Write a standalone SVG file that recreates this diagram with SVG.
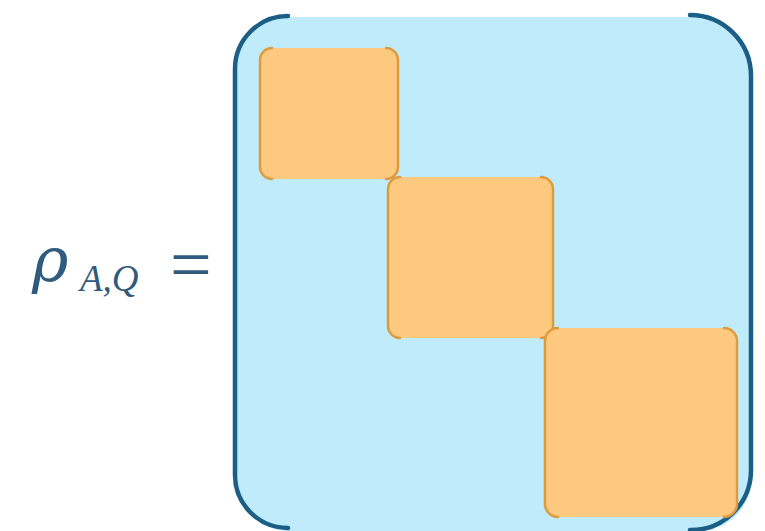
<svg xmlns="http://www.w3.org/2000/svg" width="765" height="531" viewBox="0 0 765 531">
<style>
.brk{fill:none;stroke:#1B5E86;stroke-width:4.5;stroke-linecap:round}
.blk{fill:#FDC97F}
.obrk{fill:none;stroke:#DD9A3E;stroke-width:2.5;stroke-linecap:round}
.t{font-style:italic;fill:#2F5B7E}
</style>
<rect width="765" height="531" fill="#ffffff"/>
<g id="label">
<text class="t" x="32" y="281" font-size="62" font-family="DejaVu Serif,serif">ρ</text>
<text class="t" x="80" y="291" font-size="37" font-family="Liberation Serif,serif">A,Q</text>
<text x="170" y="289" font-family="Liberation Serif,serif" font-size="74" fill="#2F5B7E">=</text>
</g>
<g id="matrix">
<rect x="237" y="17" width="514" height="514" rx="52" fill="#BFEBFA"/>
<path class="brk" d="M288 16 A53 53 0 0 0 235 69 L235 475 A53 53 0 0 0 288 528"/>
<path class="brk" d="M690 15 A61 61 0 0 1 751 76 L751 470 A60 60 0 0 1 690 530"/>
</g>
<g id="block1">
<rect class="blk" x="260" y="48" width="138" height="131" rx="12"/>
<path class="obrk" d="M272 48 A12 12 0 0 0 260 60 L260 167 A12 12 0 0 0 272 179"/>
<path class="obrk" d="M386 48 A12 12 0 0 1 398 60 L398 167 A12 12 0 0 1 386 179"/>
</g>
<g id="block2">
<rect class="blk" x="388" y="177" width="165" height="161" rx="12"/>
<path class="obrk" d="M400 177 A12 12 0 0 0 388 189 L388 326 A12 12 0 0 0 400 338"/>
<path class="obrk" d="M541 177 A12 12 0 0 1 553 189 L553 326 A12 12 0 0 1 541 338"/>
</g>
<g id="block3">
<rect class="blk" x="545" y="328" width="192" height="189" rx="13"/>
<path class="obrk" d="M558 328 A13 13 0 0 0 545 341 L545 504 A13 13 0 0 0 558 517"/>
<path class="obrk" d="M724 328 A13 13 0 0 1 737 341 L737 504 A13 13 0 0 1 724 517"/>
</g>
</svg>
